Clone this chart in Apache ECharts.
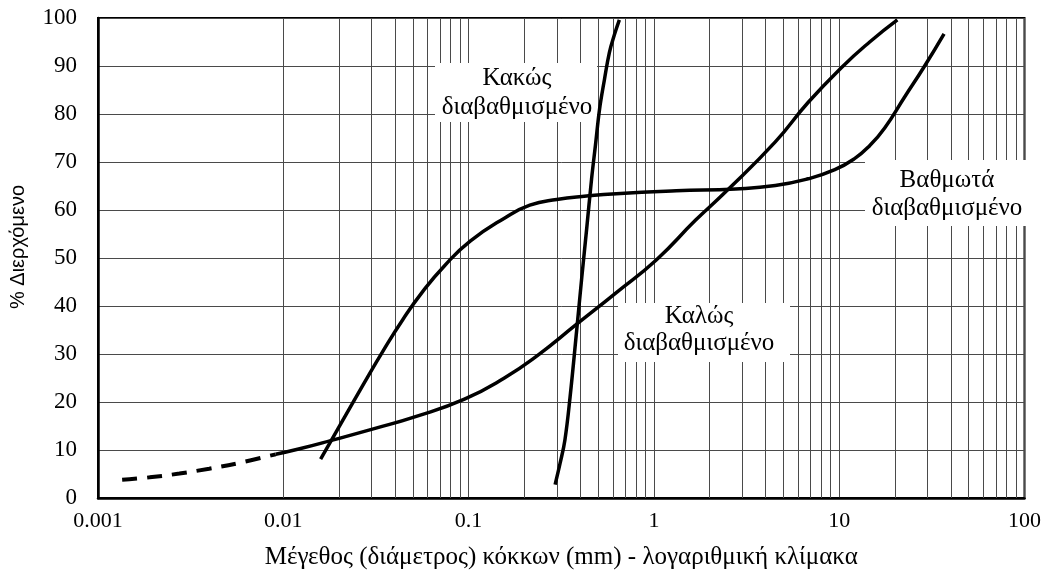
<!DOCTYPE html>
<html>
<head>
<meta charset="utf-8">
<script src="https://cdn.jsdelivr.net/npm/echarts@6/dist/echarts.min.js"></script>
<style>
html,body{margin:0;padding:0;background:#fff;}
#chart{width:1044px;height:575px;}
</style>
</head>
<body>
<div id="chart"></div>
<script>
// X tick labels (log scale decades) and Y ticks
const xTickLabels = ["0.001", "0.01", "0.1", "1", "10", "100"];
const yTicks = [0, 10, 20, 30, 40, 50, 60, 70, 80, 90, 100];

// Well graded (Καλώς διαβαθμισμένο) – dashed fine part, then solid
const wellDashedD = [0.00135, 0.0019, 0.00275, 0.00398, 0.00577, 0.0091];
const wellDashedP = [3.8, 4.3, 5.1, 6.1, 7.3, 9.1];
const wellD = [0.0091, 0.0121, 0.0182, 0.0313, 0.0512, 0.095, 0.156, 0.234, 0.383, 0.627, 1.03, 1.68, 2.44, 4.52, 6.79, 10.3, 14.6, 20.6];
const wellP = [9.1, 10.2, 12.0, 14.5, 16.9, 20.6, 25.0, 29.6, 36.2, 42.8, 49.6, 57.9, 63.8, 74.2, 82.4, 89.7, 95.0, 99.6];

// Poorly graded (Κακώς διαβαθμισμένο)
const poorD = [0.293, 0.312, 0.331, 0.353, 0.383, 0.408, 0.434, 0.461, 0.484, 0.509, 0.541, 0.575, 0.612, 0.651];
const poorP = [2.8, 7.3, 12.1, 21.1, 34.9, 45.9, 56.2, 66.5, 73.6, 81.0, 87.2, 92.8, 96.5, 99.6];

// Gap graded (Βαθμωτά διαβαθμισμένο)
const gapD = [0.0159, 0.0206, 0.027, 0.0345, 0.0442, 0.0565, 0.0742, 0.102, 0.156, 0.214, 0.299, 0.433, 0.627, 1.32, 2.76, 4.52, 6.79, 9.47, 12.1, 14.6, 17.6, 22.5, 28.8, 36.8];
const gapP = [8.1, 15.7, 23.6, 30.6, 37.2, 43.0, 48.4, 53.5, 58.3, 61.0, 62.2, 62.9, 63.4, 64.0, 64.4, 65.1, 66.5, 68.4, 70.7, 73.4, 77.1, 83.5, 89.9, 96.7];

const zip = (a, b) => a.map((v, i) => [v, b[i]]);

// minor vertical grid lines at 2..9 of each decade
const minorX = [];
for (let e = -3; e < 2; e++) {
  for (let m = 2; m <= 9; m++) minorX.push(+(m * Math.pow(10, e)).toPrecision(3));
}

const FONT = '"Liberation Serif", "DejaVu Serif", serif';
const SANS = '"Liberation Sans", Arial, sans-serif';
const gridColor = '#4a4a4a';

const chart = echarts.init(document.getElementById('chart'));
const curveStyle = { color: '#000', width: 3.5 };

function label(x, y, w, h, text, cx, cy, lh) {
  return [
    { type: 'rect', z: 100, silent: true, shape: { x: x, y: y, width: w, height: h }, style: { fill: '#fff' } },
    { type: 'text', z: 101, silent: true, x: cx, y: cy,
      style: { text: text, font: '25px ' + FONT, fill: '#000', align: 'center', verticalAlign: 'middle', lineHeight: lh } }
  ];
}

chart.setOption({
  animation: false,
  backgroundColor: '#fff',
  grid: { left: 98, right: 13, top: 18, bottom: 73, show: true, borderColor: '#000', borderWidth: 2, backgroundColor: 'transparent' },
  xAxis: {
    type: 'log', logBase: 10, min: 0.001, max: 100,
    name: 'Μέγεθος (διάμετρος) κόκκων (mm) - λογαριθμική κλίμακα',
    nameLocation: 'middle', nameGap: 47,
    nameTextStyle: { fontFamily: FONT, fontSize: 25, color: '#000' },
    axisLine: { show: true, lineStyle: { color: '#000', width: 2.5 } },
    axisTick: { show: false },
    axisLabel: {
      fontFamily: FONT, fontSize: 22, color: '#000', margin: 12,
      formatter: function (v) {
        const i = Math.round(Math.log10(v)) + 3;
        return xTickLabels[i] !== undefined ? xTickLabels[i] : '';
      }
    },
    splitLine: { show: true, lineStyle: { color: gridColor, width: 1 } }
  },
  yAxis: {
    type: 'value', min: 0, max: 100, interval: 10,
    axisLine: { show: true, lineStyle: { color: '#000', width: 2.5 } },
    axisTick: { show: false },
    axisLabel: { fontFamily: FONT, fontSize: 23, color: '#000', margin: 21,
      formatter: v => yTicks.includes(v) ? String(v) : '' },
    splitLine: { show: true, lineStyle: { color: gridColor, width: 1 } }
  },
  series: [
    {
      type: 'line', data: [], z: 1, silent: true,
      markLine: {
        silent: true, symbol: 'none', animation: false,
        label: { show: false },
        lineStyle: { color: gridColor, width: 1, type: 'solid' },
        data: minorX.map(v => ({ xAxis: v }))
      }
    },
    { type: 'line', data: zip(wellDashedD, wellDashedP), smooth: 0.4, showSymbol: false, z: 200,
      lineStyle: { color: '#000', width: 4, type: [15, 10] } },
    { type: 'line', data: zip(wellD, wellP), smooth: 0.5, showSymbol: false, z: 200, lineStyle: curveStyle },
    { type: 'line', data: zip(poorD, poorP), smooth: 0.4, showSymbol: false, z: 200, lineStyle: curveStyle },
    { type: 'line', data: zip(gapD, gapP), smooth: 0.5, showSymbol: false, z: 200, lineStyle: curveStyle }
  ],
  graphic: [].concat(
    label(435, 63, 162, 59, 'Κακώς\nδιαβαθμισμένο', 517, 93, 29),
    label(618, 303, 172, 59, 'Καλώς\nδιαβαθμισμένο', 699, 330, 27),
    label(865, 160, 164, 66, 'Βαθμωτά\nδιαβαθμισμένο', 947, 194, 28),
    [{ type: 'text', z: 101, x: 18, y: 247, rotation: Math.PI / 2,
       style: { text: '% Διερχόμενο', font: '20px ' + SANS, fill: '#000', align: 'center', verticalAlign: 'middle' } }]
  )
});
</script>
</body>
</html>
